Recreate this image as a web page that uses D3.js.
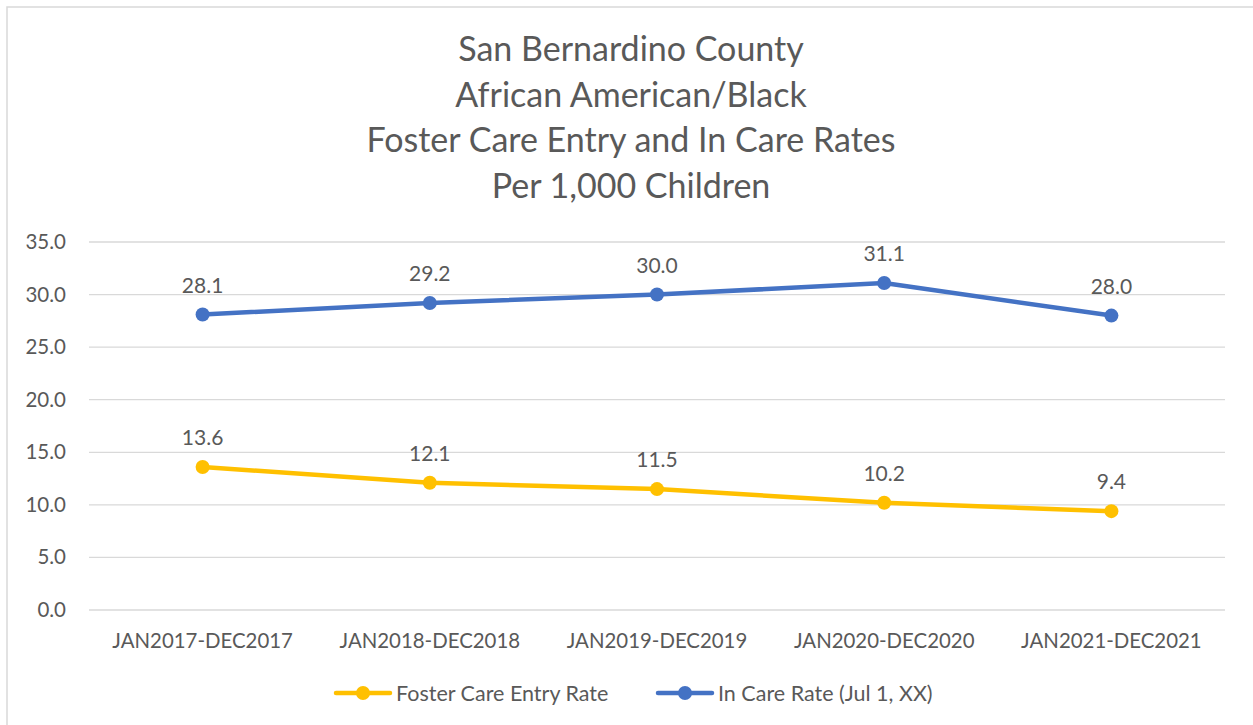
<!DOCTYPE html>
<html>
<head>
<meta charset="utf-8">
<script src="https://cdn.jsdelivr.net/npm/d3@7"></script>
<style>
  body { margin: 0; background: #fff; }
  text { font-family: Lato, "Open Sans", sans-serif; fill: #595959; }
</style>
</head>
<body>
<div id="app"></div>
<script>
var titleLines = ["San Bernardino County", "African American/Black", "Foster Care Entry and In Care Rates", "Per 1,000 Children"]
var categories = ["JAN2017-DEC2017", "JAN2018-DEC2018", "JAN2019-DEC2019", "JAN2020-DEC2020", "JAN2021-DEC2021"]
var entryRate = [13.6, 12.1, 11.5, 10.2, 9.4]
var inCareRate = [28.1, 29.2, 30.0, 31.1, 28.0]
var yTicks = [0, 5, 10, 15, 20, 25, 30, 35]
var seriesNames = ["Foster Care Entry Rate", "In Care Rate (Jul 1, XX)"]
var colours = ["#FFC000", "#4472C4"]

var W = 1253, H = 725
var svg = d3.select("#app").append("svg").attr("width", W).attr("height", H)

svg.append("rect").attr("x", 7).attr("y", 7).attr("width", W).attr("height", H)
  .attr("fill", "#fff").attr("stroke", "#d9d9d9").attr("stroke-width", 1.5)

svg.selectAll(".title").data(titleLines).enter().append("text")
  .attr("x", 631).attr("y", (d, i) => 61 + i * 45.5)
  .attr("text-anchor", "middle").style("font-size", "34px")
  .text(d => d)

var x = d3.scaleBand().domain(categories).range([89, 1225])
var y = d3.scaleLinear().domain([0, 35]).range([610, 242])

svg.selectAll(".grid").data(yTicks).enter().append("line")
  .attr("x1", 89).attr("x2", 1225)
  .attr("y1", d => y(d)).attr("y2", d => y(d))
  .attr("stroke", "#d9d9d9").attr("stroke-width", 1.3)

svg.selectAll(".ytick").data(yTicks).enter().append("text")
  .attr("x", 66).attr("y", d => y(d) + 7)
  .attr("text-anchor", "end").style("font-size", "20.5px")
  .text(d => d.toFixed(1))

svg.selectAll(".xtick").data(categories).enter().append("text")
  .attr("x", d => x(d) + x.bandwidth() / 2).attr("y", 648)
  .attr("text-anchor", "middle").style("font-size", "20.4px")
  .text(d => d)

function drawSeries(vals, colour) {
  var pts = vals.map((v, i) => ({ cat: categories[i], v: v }))
  var line = d3.line().x(d => x(d.cat) + x.bandwidth() / 2).y(d => y(d.v))
  svg.append("path").datum(pts).attr("d", line)
    .attr("fill", "none").attr("stroke", colour).attr("stroke-width", 4.5)
    .attr("stroke-linecap", "round").attr("stroke-linejoin", "round")
  var g = svg.append("g")
  g.selectAll("circle").data(pts).enter().append("circle")
    .attr("cx", d => x(d.cat) + x.bandwidth() / 2).attr("cy", d => y(d.v))
    .attr("r", 7).attr("fill", colour)
  g.selectAll("text").data(pts).enter().append("text")
    .attr("x", d => x(d.cat) + x.bandwidth() / 2).attr("y", d => y(d.v) - 22)
    .attr("text-anchor", "middle").style("font-size", "21px")
    .text(d => d.v.toFixed(1))
}
drawSeries(entryRate, colours[0])
drawSeries(inCareRate, colours[1])

// legend
var legendX = [336, 658]
var lg = svg.selectAll(".legend").data(seriesNames).enter().append("g")
  .attr("transform", (d, i) => "translate(" + legendX[i] + ",693)")
lg.append("line").attr("x1", 0).attr("x2", 54).attr("y1", 0).attr("y2", 0)
  .attr("stroke", (d, i) => colours[i]).attr("stroke-width", 4.5).attr("stroke-linecap", "round")
lg.append("circle").attr("cx", 27).attr("cy", 0).attr("r", 7).attr("fill", (d, i) => colours[i])
lg.append("text").attr("x", 60).attr("y", 7.5).style("font-size", "21.5px").text(d => d)
</script>
</body>
</html>
